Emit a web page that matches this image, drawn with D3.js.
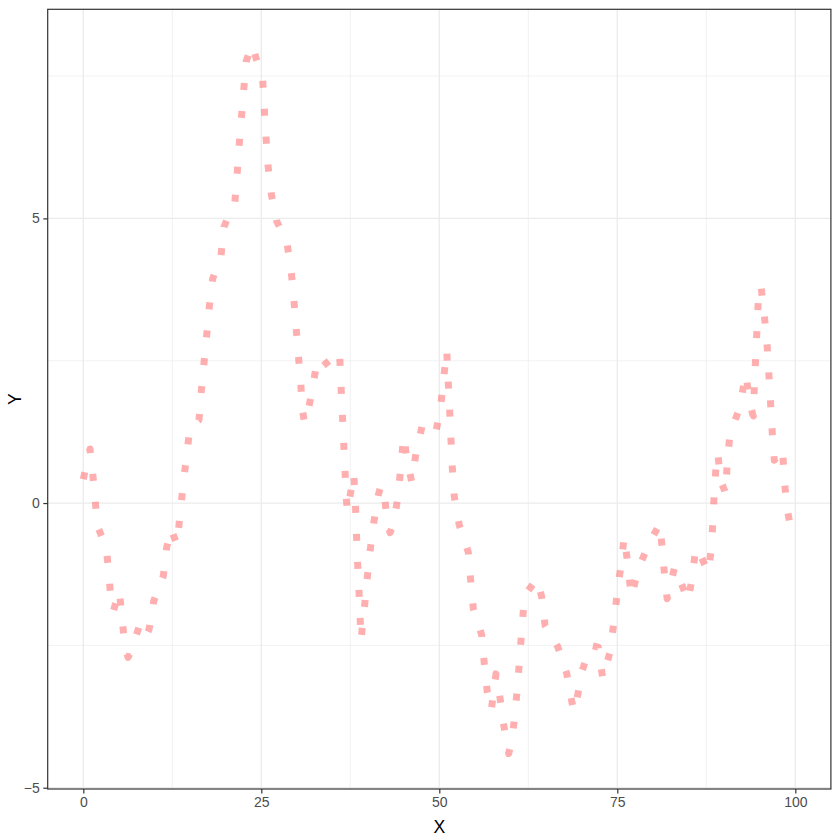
<!DOCTYPE html>
<html><head><meta charset="utf-8">
<script src="https://cdn.jsdelivr.net/npm/d3@7"></script>
<style>body{margin:0;background:#fff}svg{display:block}</style>
</head><body>
<script>
// Data (x, y along the dotted line)
const xValues = [0,0.94,1.26,1.64,1.97,3.23,3.61,3.93,4.24,5.06,5.44,5.86,6.28,6.70,7.96,8.88,9.23,9.89,11.24,11.71,12.32,13.16,13.62,14.04,14.52,14.99,16.25,16.57,16.95,17.33,17.70,18.17,19.34,19.76,20.46,21.26,21.59,21.87,22.19,22.53,22.85,23.70,25.20,25.42,25.66,25.94,26.40,27.16,28.57,29.17,29.55,29.87,30.20,30.53,30.81,31.07,31.38,32.16,32.82,33.38,34.61,36.01,36.19,36.38,36.57,36.76,36.94,37.11,37.98,38.20,38.34,38.48,38.68,38.86,39.00,39.47,39.85,40.27,40.79,41.43,41.81,42.28,42.70,43.08,43.54,44.20,44.58,45.00,45.51,46.12,46.73,47.61,48.55,49.54,50.24,50.66,51.04,51.26,51.46,51.64,51.83,52.11,52.81,54.07,54.41,54.78,55.96,56.32,56.74,57.30,57.96,58.43,58.95,59.75,60.25,60.67,61.05,61.33,61.66,61.94,63.72,64.38,64.85,66.63,67.89,68.60,68.92,69.30,70.00,71.26,72.33,72.95,73.97,74.49,74.96,75.48,75.98,76.50,76.97,77.95,79.45,80.99,81.38,81.74,82.00,83.06,84.65,84.93,85.39,85.91,86.18,87.78,88.20,88.44,88.62,88.90,89.11,89.51,90.08,90.20,90.45,90.83,92.19,92.89,93.07,93.50,94.01,94.13,94.24,94.44,94.62,94.80,95.18,95.70,96.07,96.31,96.54,96.77,97.05,98.20,98.46,98.83,99.58,100];
const yValues = [0.42,0.95,0.60,0.10,-0.40,-0.78,-1.28,-1.78,-1.89,-1.54,-2.03,-2.53,-2.71,-2.61,-2.12,-2.32,-2.22,-1.72,-1.28,-0.78,-0.45,-0.73,-0.16,0.34,0.84,1.34,1.46,1.96,2.46,2.95,3.45,3.94,4.35,4.85,5.07,5.25,5.75,6.25,6.75,7.25,7.75,8.05,7.43,6.93,6.43,5.93,5.43,4.95,4.60,4.11,3.61,3.11,2.61,2.11,1.61,1.41,1.50,1.99,2.49,2.57,2.38,2.59,2.07,1.57,1.07,0.56,0.07,-0.15,0.52,0.07,-0.43,-0.94,-1.43,-1.94,-2.41,-1.85,-1.35,-0.85,-0.35,0.14,0.31,0.15,-0.34,-0.52,-0.38,0.11,0.61,1.18,0.72,0.38,0.88,1.37,1.25,1.25,1.75,2.25,2.69,2.11,1.61,1.11,0.61,0.11,-0.39,-0.86,-1.36,-1.86,-2.32,-2.82,-3.32,-3.64,-3.00,-3.33,-3.83,-4.40,-4.13,-3.64,-3.13,-2.63,-2.14,-1.63,-1.33,-1.65,-2.15,-2.52,-2.99,-3.48,-3.66,-3.47,-2.97,-2.50,-2.53,-3.08,-2.62,-2.12,-1.62,-1.12,-0.59,-1.10,-1.65,-1.16,-0.71,-0.36,-0.91,-1.40,-1.68,-1.12,-1.62,-1.72,-1.40,-0.91,-0.78,-1.22,-0.80,-0.31,0.20,0.70,0.88,0.39,0.22,0.17,0.72,1.22,1.67,2.17,2.27,1.83,1.56,1.53,2.06,2.57,3.07,3.56,3.82,3.23,2.72,2.22,1.72,1.22,0.75,0.96,0.41,-0.09,-0.58,-0.63];
const xBreaks = [0, 25, 50, 75, 100];
const xMinor = [12.5, 37.5, 62.5, 87.5];
const yBreaks = [-5, 0, 5];
const yMinor = [-2.5, 2.5, 7.5];
const xTitle = "X", yTitle = "Y";

const W = 840, H = 840;
const panel = {left: 47.7, right: 830.9, top: 9.3, bottom: 789};
const data = xValues.map((x, i) => ({x, y: yValues[i]}));

const xr = d3.extent(xValues), yr = d3.extent(yValues);
const xp = (xr[1]-xr[0])*0.05, yp = (yr[1]-yr[0])*0.05;
const x = d3.scaleLinear().domain([xr[0]-xp, xr[1]+xp]).range([panel.left, panel.right]);
const y = d3.scaleLinear().domain([yr[0]-yp, yr[1]+yp]).range([panel.bottom, panel.top]);

const svg = d3.select("body").append("svg").attr("width", W).attr("height", H)
  .style("font-family", "'Liberation Sans', Arial, sans-serif");
svg.append("rect").attr("width", W).attr("height", H).attr("fill", "#fff");

const g = svg.append("g");
// minor grid
g.selectAll(".vmin").data(xMinor).join("line")
  .attr("x1", d => x(d)).attr("x2", d => x(d)).attr("y1", panel.top).attr("y2", panel.bottom)
  .attr("stroke", "#EBEBEB").attr("stroke-width", 0.65);
g.selectAll(".hmin").data(yMinor).join("line")
  .attr("y1", d => y(d)).attr("y2", d => y(d)).attr("x1", panel.left).attr("x2", panel.right)
  .attr("stroke", "#EBEBEB").attr("stroke-width", 0.65);
// major grid
g.selectAll(".vmaj").data(xBreaks).join("line")
  .attr("x1", d => x(d)).attr("x2", d => x(d)).attr("y1", panel.top).attr("y2", panel.bottom)
  .attr("stroke", "#EBEBEB").attr("stroke-width", 1.3);
g.selectAll(".hmaj").data(yBreaks).join("line")
  .attr("y1", d => y(d)).attr("y2", d => y(d)).attr("x1", panel.left).attr("x2", panel.right)
  .attr("stroke", "#EBEBEB").attr("stroke-width", 1.3);

// line
svg.append("clipPath").attr("id", "clip").append("rect")
  .attr("x", panel.left).attr("y", panel.top).attr("width", panel.right-panel.left).attr("height", panel.bottom-panel.top);
svg.append("path").datum(data)
  .attr("clip-path", "url(#clip)")
  .attr("d", d3.line().x(d => x(d.x)).y(d => y(d.y)))
  .attr("fill", "none").attr("stroke", "#FF7A7A").attr("stroke-opacity", 0.6)
  .attr("stroke-width", 7).attr("stroke-dasharray", "7 21")
  .attr("stroke-linecap", "butt").attr("stroke-linejoin", "round");

// panel border
svg.append("rect").attr("x", panel.left).attr("y", panel.top)
  .attr("width", panel.right-panel.left).attr("height", panel.bottom-panel.top)
  .attr("fill", "none").attr("stroke", "#333333").attr("stroke-width", 1.2);

// axes
const xAxis = d3.axisBottom(x).tickValues(xBreaks).tickSize(4.4).tickPadding(3.5);
const yAxis = d3.axisLeft(y).tickValues(yBreaks).tickSize(4.4).tickPadding(3.5);
const gx = svg.append("g").attr("transform", `translate(0,${panel.bottom})`).call(xAxis);
const gy = svg.append("g").attr("transform", `translate(${panel.left},0)`).call(yAxis);
[gx, gy].forEach(a => {
  a.select(".domain").remove();
  a.selectAll(".tick line").attr("stroke", "#333333").attr("stroke-width", 1.2);
  a.selectAll(".tick text").attr("fill", "#4D4D4D").style("font-size", "14px")
    .style("font-family", "'Liberation Sans', Arial, sans-serif");
});

svg.append("text").attr("x", (panel.left+panel.right)/2).attr("y", 833)
  .attr("text-anchor", "middle").style("font-size", "17.6px").attr("fill", "#000").text(xTitle);
svg.append("text").attr("transform", `translate(21,${(panel.top+panel.bottom)/2}) rotate(-90)`)
  .attr("text-anchor", "middle").style("font-size", "17.6px").attr("fill", "#000").text(yTitle);
</script>
</body></html>
